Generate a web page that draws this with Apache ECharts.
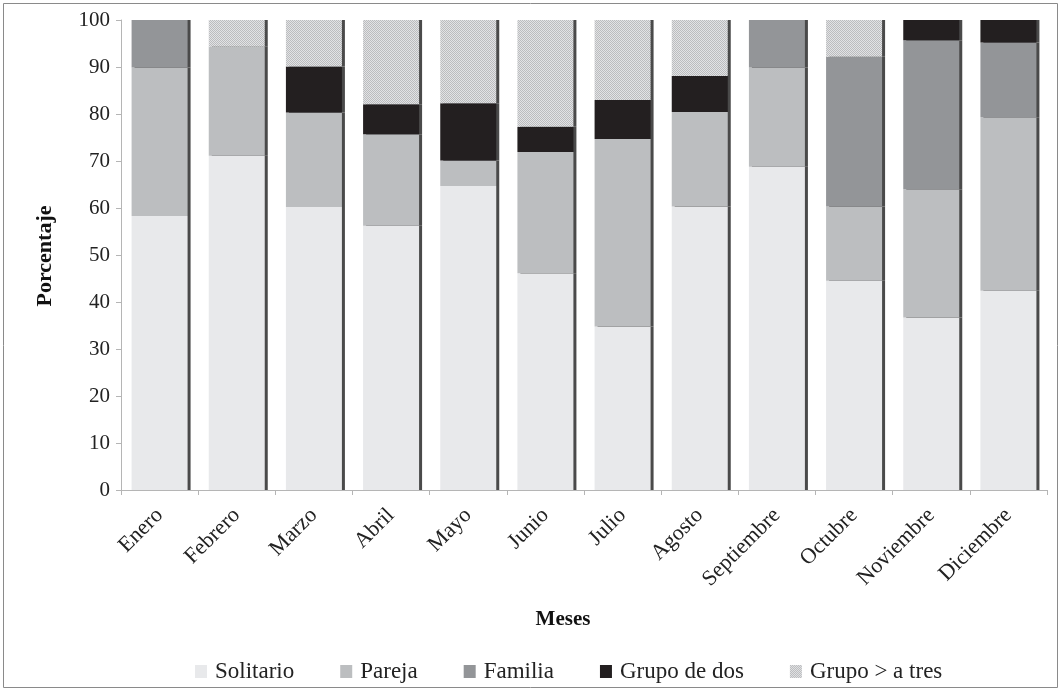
<!DOCTYPE html>
<html>
<head>
<meta charset="utf-8">
<script src="https://cdn.jsdelivr.net/npm/echarts@6/dist/echarts.min.js"></script>
<style>
  html, body { margin: 0; padding: 0; background: #fff; }
  #chart { width: 1062px; height: 693px; }
</style>
</head>
<body>
<div id="chart"></div>
<script>
var meses = ['Enero', 'Febrero', 'Marzo', 'Abril', 'Mayo', 'Junio', 'Julio', 'Agosto', 'Septiembre', 'Octubre', 'Noviembre', 'Diciembre'];
var solitario = [58.3, 71.1, 60.2, 56.2, 64.7, 46.1, 34.8, 60.3, 68.8, 44.5, 36.7, 42.4];
var pareja    = [31.6, 23.2, 20.1, 19.5, 5.4, 25.8, 39.9, 20.1, 21.1, 15.8, 27.3, 36.9];
var familia   = [10.1, 0, 0, 0, 0, 0, 0, 0, 10.1, 31.9, 31.7, 15.9];
var grupoDos  = [0, 0, 9.8, 6.4, 12.2, 5.4, 8.3, 7.7, 0, 0, 4.3, 4.8];
var grupoTres = [0, 5.7, 9.9, 17.9, 17.7, 22.7, 17.0, 11.9, 0, 7.8, 0, 0];
var yTicks = [0, 100, 10];

// trama punteada para "Grupo > a tres"
function makePattern() {
  var c = document.createElement('canvas');
  c.width = 2; c.height = 2;
  var ctx = c.getContext('2d');
  ctx.fillStyle = '#e2e3e5'; ctx.fillRect(0, 0, 2, 2);
  ctx.fillStyle = '#bbbcbe'; ctx.fillRect(0, 0, 1, 1); ctx.fillRect(1, 1, 1, 1);
  return c;
}

var font = 'Liberation Serif';
var chart = echarts.init(document.getElementById('chart'));

function serie(name, data, color) {
  return {
    name: name,
    type: 'bar',
    stack: 'total',
    barWidth: 56,
    data: data,
    itemStyle: {
      color: color,
      shadowColor: '#4a4a4a',
      shadowOffsetX: 3,
      shadowOffsetY: 0,
      shadowBlur: 0
    },
    emphasis: { disabled: true }
  };
}

chart.setOption({
  animation: false,
  textStyle: { fontFamily: font },
  grid: { left: 121, right: 15, top: 20, bottom: 203 },
  legend: {
    left: 190,
    top: 655,
    itemWidth: 12,
    itemHeight: 13,
    itemGap: 46,
    icon: 'rect',
    itemStyle: { shadowColor: 'transparent', shadowOffsetX: 0 },
    textStyle: { fontFamily: font, fontSize: 23, color: '#222', padding: [0, 0, 0, 3] },
    data: ['Solitario', 'Pareja', 'Familia', 'Grupo de dos', 'Grupo > a tres']
  },
  xAxis: {
    type: 'category',
    data: meses,
    axisLine: { lineStyle: { color: '#b5b5b5', width: 1 } },
    axisTick: { show: true, length: 5, lineStyle: { color: '#b5b5b5' } },
    axisLabel: { rotate: 45, fontSize: 22, color: '#222', fontFamily: font, margin: 22, interval: 0 }
  },
  yAxis: {
    type: 'value',
    min: yTicks[0],
    max: yTicks[1],
    interval: yTicks[2],
    splitLine: { show: false },
    axisLine: { show: true, lineStyle: { color: '#b5b5b5', width: 1 } },
    axisTick: { show: true, length: 5, lineStyle: { color: '#b5b5b5' } },
    axisLabel: { fontSize: 21, color: '#222', fontFamily: font, margin: 11 }
  },
  graphic: [
    { type: 'rect', shape: { x: 3.5, y: 3.5, width: 1054, height: 684 }, style: { fill: 'none', stroke: '#8a8a8a', lineWidth: 1 }, z: 100 },
    { type: 'text', x: 45, y: 256, rotation: Math.PI / 2, style: { text: 'Porcentaje', font: 'bold 22px "Liberation Serif"', fill: '#111', align: 'center', verticalAlign: 'middle' } },
    { type: 'text', x: 563, y: 620, style: { text: 'Meses', font: 'bold 21px "Liberation Serif"', fill: '#111', align: 'center', verticalAlign: 'middle' } }
  ],
  series: [
    serie('Solitario', solitario, '#e8e9eb'),
    serie('Pareja', pareja, '#bcbec0'),
    serie('Familia', familia, '#939598'),
    serie('Grupo de dos', grupoDos, '#231f20'),
    serie('Grupo > a tres', grupoTres, { image: makePattern(), repeat: 'repeat' })
  ]
});
</script>
</body>
</html>
